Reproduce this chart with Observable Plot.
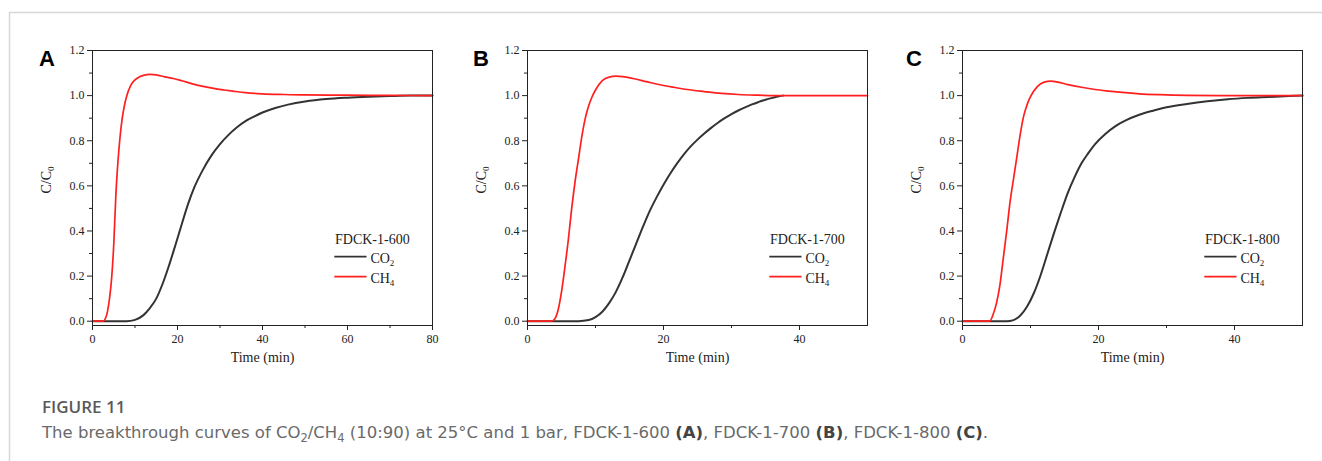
<!DOCTYPE html>
<html>
<head>
<meta charset="utf-8">
<script src="https://cdn.jsdelivr.net/npm/d3@7"></script>
<script src="https://cdn.jsdelivr.net/npm/@observablehq/plot@0.6"></script>
<style>
  html, body { margin: 0; padding: 0; background: #fff; }
  #page { position: relative; width: 1322px; height: 461px; overflow: hidden; background: #fff; }
  .panel { position: absolute; top: 40px; }
  #overlay { position: absolute; left: 0; top: 0; pointer-events: none; }
</style>
</head>
<body>
<div id="page"></div>
<script>
// ---------------- DATA ----------------
const panelLetters = ["A", "B", "C"];
const sampleNames = ["FDCK-1-600", "FDCK-1-700", "FDCK-1-800"];
const xMax = [80, 50, 50];
const xMajorTicks = [[0, 20, 40, 60, 80], [0, 20, 40], [0, 20, 40]];
const xMinorTicks = [[10, 30, 50, 70], [10, 30], [10, 30]];
const yMajorTicks = [0, 0.2, 0.4, 0.6, 0.8, 1.0, 1.2];
const yMinorTicks = [0.1, 0.3, 0.5, 0.7, 0.9, 1.1];
const xLabel = "Time (min)";

// Panel A (FDCK-1-600)
const aCh4Time = [0, 2.6, 3, 3.5, 4, 4.5, 5, 5.5, 6, 6.5, 7, 7.5, 8, 9, 10, 11, 12, 13.5, 15, 17, 19, 21, 23.5, 26, 28.5, 31, 33, 36, 40, 45, 50, 60, 70, 80];
const aCh4Value = [0, 0, 0.01, 0.04, 0.10, 0.19, 0.34, 0.56, 0.71, 0.82, 0.90, 0.955, 0.995, 1.045, 1.07, 1.083, 1.09, 1.094, 1.092, 1.083, 1.076, 1.066, 1.052, 1.041, 1.032, 1.025, 1.02, 1.013, 1.008, 1.005, 1.003, 1.002, 1.001, 1.0];
const aCo2Time = [0, 8, 10, 12, 13.5, 15, 16.5, 18, 19.5, 21, 22.5, 24, 26, 28, 30, 32, 34, 36, 38, 40, 43, 46, 50, 55, 60, 65, 70, 75, 80];
const aCo2Value = [0, 0, 0.006, 0.027, 0.058, 0.10, 0.166, 0.247, 0.337, 0.43, 0.52, 0.595, 0.672, 0.735, 0.785, 0.826, 0.86, 0.887, 0.907, 0.925, 0.945, 0.96, 0.974, 0.985, 0.991, 0.995, 0.998, 1.0, 1.0];

// Panel B (FDCK-1-700)
const bCh4Time = [0, 3.5, 4, 4.5, 5, 5.5, 6, 6.5, 7, 7.5, 8, 8.5, 9, 9.5, 10, 11, 12, 13, 14, 15.5, 17.5, 19.5, 21.5, 23.5, 26, 28.5, 31, 34, 37, 40, 45, 50];
const bCh4Value = [0, 0, 0.01, 0.05, 0.13, 0.24, 0.36, 0.5, 0.62, 0.72, 0.82, 0.9, 0.955, 0.995, 1.025, 1.066, 1.082, 1.086, 1.084, 1.076, 1.062, 1.048, 1.037, 1.027, 1.018, 1.01, 1.005, 1.002, 1.0, 1.0, 1.0, 1.0];
const bCo2Time = [0, 7.5, 9, 10, 11, 12, 13, 14, 15, 16, 17, 18, 19, 20, 21, 22, 23, 24, 25, 26, 27, 28, 29, 30, 31, 32, 33, 34, 35, 36, 37, 37.6];
const bCo2Value = [0, 0, 0.005, 0.018, 0.042, 0.08, 0.13, 0.195, 0.27, 0.345, 0.42, 0.49, 0.55, 0.605, 0.655, 0.7, 0.74, 0.775, 0.805, 0.832, 0.857, 0.88, 0.9, 0.918, 0.934, 0.948, 0.961, 0.972, 0.982, 0.99, 0.997, 1.0];

// Panel C (FDCK-1-800)
const cCh4Time = [0, 4, 4.5, 5, 5.5, 6, 6.5, 7, 7.5, 8, 8.5, 9, 9.5, 10, 11, 12, 13, 14, 15.5, 17.5, 19.5, 21.5, 23.5, 26, 29, 33, 38, 44, 50];
const cCh4Value = [0, 0, 0.03, 0.08, 0.16, 0.28, 0.4, 0.53, 0.63, 0.73, 0.83, 0.91, 0.96, 0.995, 1.04, 1.06, 1.064, 1.06, 1.049, 1.037, 1.027, 1.02, 1.014, 1.008, 1.004, 1.001, 1.0, 1.0, 1.0];
const cCo2Time = [0, 6.5, 7.5, 8.5, 9.5, 10.5, 11.5, 12.5, 13.5, 14.5, 15.5, 16.5, 17.5, 18.5, 19.5, 21, 22.5, 24, 26, 28, 30, 33, 36, 39, 42, 45, 48, 50];
const cCo2Value = [0, 0, 0.005, 0.025, 0.065, 0.125, 0.205, 0.3, 0.395, 0.485, 0.57, 0.64, 0.7, 0.745, 0.785, 0.83, 0.865, 0.89, 0.915, 0.933, 0.948, 0.963, 0.975, 0.984, 0.99, 0.994, 0.998, 1.0];

const co2Series = [[aCo2Time, aCo2Value], [bCo2Time, bCo2Value], [cCo2Time, cCo2Value]];
const ch4Series = [[aCh4Time, aCh4Value], [bCh4Time, bCh4Value], [cCh4Time, cCh4Value]];

// ---------------- LAYOUT ----------------
const SERIF = '"Liberation Serif", "Times New Roman", Times, serif';
const panelLeft = [30, 465, 900];
const letterX = [39, 473, 906];
const W = 422, H = 330, ML = 62, MR = 20, MT = 10, MB = 45;
const co2Color = "#333333", ch4Color = "#ff1f1f";
const axisText = {fontFamily: SERIF, fontSize: 12, fill: "#222"};

const page = document.getElementById("page");
const toRows = ([ts, vs]) => ts.map((t, i) => ({t, v: vs[i]}));

for (let p = 0; p < 3; p++) {
  const co2 = toRows(co2Series[p]);
  const ch4 = toRows(ch4Series[p]);
  const chart = Plot.plot({
    width: W, height: H,
    marginLeft: ML, marginRight: MR, marginTop: MT, marginBottom: MB,
    style: {fontFamily: SERIF, fontSize: "12px", color: "#222", background: "transparent", overflow: "visible"},
    x: {domain: [0, xMax[p]], label: null},
    y: {domain: [-0.019, 1.2], label: null},
    marks: [
      Plot.axisX({ticks: xMajorTicks[p], tickSize: 5, tickPadding: 4, tickFormat: d => String(d), label: null, stroke: "#222", ...axisText}),
      Plot.axisX({ticks: xMinorTicks[p], tickSize: 3, tickFormat: () => "", label: null, stroke: "#222"}),
      Plot.axisY({ticks: yMajorTicks, tickSize: 5, tickPadding: 3, tickFormat: d3.format(".1f"), label: null, stroke: "#222", ...axisText}),
      Plot.axisY({ticks: yMinorTicks, tickSize: 3, tickFormat: () => "", label: null, stroke: "#222"}),
      Plot.line(co2, {x: "t", y: "v", stroke: co2Color, strokeWidth: 2, curve: "monotone-x"}),
      Plot.line(ch4, {x: "t", y: "v", stroke: ch4Color, strokeWidth: 1.7, curve: "monotone-x"}),
      Plot.frame({stroke: "#222", strokeWidth: 1}),
      Plot.text([xLabel], {frameAnchor: "bottom", dy: 36, text: d => d, fontSize: 14, fontFamily: SERIF, fill: "#222"})
    ]
  });
  const svg = d3.select(chart);
  const fr = W - MR; // frame right in svg coords
  // y axis label C/C0
  const yl = svg.append("text")
    .attr("transform", `translate(${ML - 41.5},${140}) rotate(-90)`)
    .attr("text-anchor", "middle")
    .attr("font-family", SERIF).attr("font-size", 14).attr("fill", "#222");
  yl.append("tspan").text("C/C");
  yl.append("tspan").attr("font-size", 9).attr("dy", 3).text("0");
  // legend
  const lg = svg.append("g").attr("font-family", SERIF).attr("fill", "#222").attr("text-anchor", "start");
  lg.append("text").attr("x", fr - 97).attr("y", 204).attr("font-size", 14).attr("text-anchor", "start").text(sampleNames[p]);
  const entries = [["CO", "2", co2Color, 216.7], ["CH", "4", ch4Color, 236.7]];
  entries.forEach(([main, sub, col, y]) => {
    lg.append("line").attr("x1", fr - 97.7).attr("x2", fr - 65.5).attr("y1", y).attr("y2", y)
      .attr("stroke", col).attr("stroke-width", 1.7);
    const t = lg.append("text").attr("x", fr - 61.6).attr("y", y + 6.6).attr("font-size", 14).attr("text-anchor", "start");
    t.append("tspan").text(main);
    t.append("tspan").attr("font-size", 9).attr("dy", 3).text(sub);
  });
  const holder = document.createElement("div");
  holder.className = "panel";
  holder.style.left = panelLeft[p] + "px";
  holder.appendChild(chart);
  page.appendChild(holder);
}

// ---------------- PAGE DECORATION ----------------
const ov = d3.select(page).append("svg").attr("id", "overlay").attr("width", 1322).attr("height", 461);
ov.append("line").attr("x1", 9).attr("x2", 1322).attr("y1", 12.5).attr("y2", 12.5).attr("stroke", "#d8d8d8").attr("stroke-width", 1.5);
ov.append("line").attr("x1", 9.5).attr("x2", 9.5).attr("y1", 12).attr("y2", 461).attr("stroke", "#d8d8d8").attr("stroke-width", 1.5);
panelLetters.forEach((L, i) => {
  ov.append("text").attr("x", letterX[i]).attr("y", 66)
    .attr("font-family", '"Liberation Sans", Arial, sans-serif').attr("font-weight", "bold")
    .attr("font-size", 22).attr("fill", "#000").text(L);
});
ov.append("text").attr("x", 42).attr("y", 412.7).attr("font-family", '"Open Sans", sans-serif').attr("font-weight", 600)
  .attr("font-size", 17).attr("fill", "#5a5a5a").text("FIGURE 11");
const cap = ov.append("text").attr("x", 42).attr("y", 438.3).attr("font-family", '"DejaVu Sans", "Open Sans", sans-serif')
  .attr("font-size", 16.5).attr("fill", "#6a6a6a");
const parts = [
  ["The breakthrough curves of CO"], ["2", "sub"], ["/CH"], ["4", "sub"],
  [" (10:90) at 25°C and 1 bar, FDCK-1-600 "], ["(A)", "b"], [", FDCK-1-700 "], ["(B)", "b"],
  [", FDCK-1-800 "], ["(C)", "b"], ["."]
];
let shifted = false;
parts.forEach(([s, kind]) => {
  const ts = cap.append("tspan").text(s);
  if (kind === "sub") { ts.attr("font-size", 11.5).attr("dy", 4); shifted = true; }
  else {
    if (shifted) { ts.attr("dy", -4); shifted = false; }
    if (kind === "b") ts.attr("font-weight", 700).attr("fill", "#444");
  }
});
</script>
</body>
</html>
